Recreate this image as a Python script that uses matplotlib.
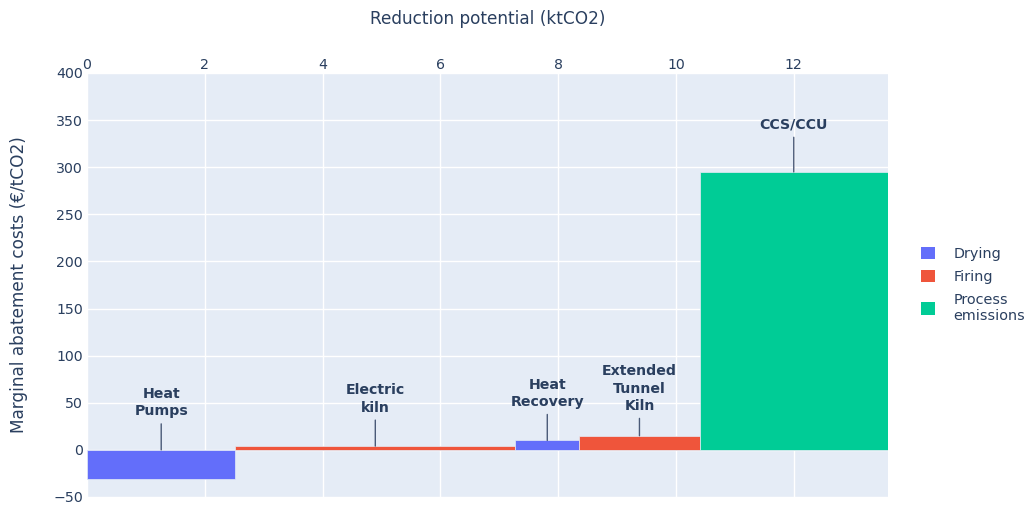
import matplotlib
matplotlib.use("Agg")
import matplotlib.pyplot as plt
from matplotlib.patches import Patch
import numpy as np

plt.rcParams['font.family'] = ['DejaVu Sans']

measures = ["Heat\nPumps", "Electric\nkiln", "Heat\nRecovery", "Extended\nTunnel\nKiln", "CCS/CCU"]
categories = ["Drying", "Firing", "Drying", "Firing", "Process emissions"]
potentials = [2.52, 4.75, 1.09, 2.04, 3.2]   # ktCO2 (bar widths)
costs = [-31, 4, 10, 15, 295]               # €/tCO2

legend_order = ["Drying", "Firing", "Process emissions"]
legend_labels = ["Drying", "Firing", "Process\nemissions"]
colors = {"Drying": "#636efa", "Firing": "#EF553B", "Process emissions": "#00cc96"}

yticks = [-50, 0, 50, 100, 150, 200, 250, 300, 350, 400]
xticks = [0, 2, 4, 6, 8, 10, 12]

txt = "#2a3f5f"

fig = plt.figure(figsize=(10.27, 5.05), dpi=100)
ax = fig.add_axes([87/1027, 1 - 497/505, (888-87)/1027, (497-73)/505])
ax.set_facecolor("#e5ecf6")

lefts = np.concatenate([[0], np.cumsum(potentials)[:-1]])
ax.bar(lefts, costs, width=potentials, align='edge',
       color=[colors[c] for c in categories], edgecolor="#e5ecf6", linewidth=0.5, zorder=3)

for left, w, c, m in zip(lefts, potentials, costs, measures):
    ax.annotate(m, xy=(left + w/2, max(c, 0)), xytext=(0, 34), textcoords='offset points',
                ha='center', va='center', fontsize=10.2, fontweight='bold', color=txt,
                linespacing=1.3,
                arrowprops=dict(arrowstyle='-', color="#4a5a78", lw=1, shrinkA=2, shrinkB=0),
                zorder=5)

ax.set_xlim(0, float(np.sum(potentials)))
ax.set_ylim(-50, 400)
ax.set_yticks(yticks)
ax.set_xticks(xticks)
ax.xaxis.tick_top()
ax.xaxis.set_label_position('top')
ax.grid(True, color='white', linewidth=1, zorder=0)
ax.set_axisbelow(True)
for s in ax.spines.values():
    s.set_visible(False)
ax.tick_params(axis='both', length=0, labelsize=10.2, colors=txt)
ax.tick_params(axis='x', pad=1)
ax.tick_params(axis='y', pad=3)
ax.set_xlabel("Reduction potential (ktCO2)", fontsize=12.2, color=txt, labelpad=24)
ax.set_ylabel("Marginal abatement costs (€/tCO2)", fontsize=12.2, color=txt, labelpad=18)

handles = [Patch(facecolor=colors[c], edgecolor='none') for c in legend_order]
fig.legend(handles, legend_labels, loc='upper left', bbox_to_anchor=(921/1027, 1 - 247/505),
           frameon=False, fontsize=10.4, labelcolor=txt, handlelength=0.95, handleheight=0.95,
           handletextpad=1.3, labelspacing=0.6, borderaxespad=0, borderpad=0)

fig.savefig("out.png", dpi=100)
